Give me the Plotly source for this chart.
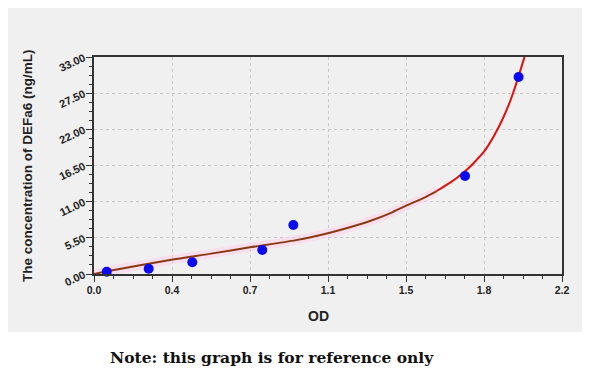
import plotly.graph_objects as go

# Standard points (OD, concentration)
od = [0.060, 0.257, 0.462, 0.791, 0.937, 1.744, 1.996]
conc = [0.35, 0.80, 1.78, 3.65, 7.45, 14.90, 29.96]

# Fitted curve
curve_x_low = [0.0, 0.075, 0.357, 0.55, 0.733, 0.95, 1.109, 1.203, 1.297, 1.391, 1.467, 1.548, 1.611]
curve_y_low = [0.0, 0.50, 2.13, 3.10, 4.06, 5.15, 6.28, 7.10, 8.06, 9.23, 10.39, 11.55, 12.62]
curve_x_high = [1.611, 1.674, 1.705, 1.752, 1.784, 1.833, 1.880, 1.917, 1.948, 1.971, 1.999, 2.029]
curve_y_high = [12.62, 13.90, 14.60, 15.85, 16.85, 18.60, 21.00, 23.30, 25.60, 27.60, 30.40, 33.56]

x_ticks = [0, 2.2/6, 2*2.2/6, 3*2.2/6, 4*2.2/6, 5*2.2/6, 2.2]
x_ticktext = ["0.0", "0.4", "0.7", "1.1", "1.5", "1.8", "2.2"]
y_ticks = [0, 5.5, 11, 16.5, 22, 27.5, 33]
y_ticktext = ["0.00", "5.50", "11.00", "16.50", "22.00", "27.50", "33.00"]

OFF = 8  # page body margin
L, R, T, B = 94 - OFF, 562 - OFF, 57 - OFF, 274 - OFF
W, H = 600 - OFF, 376 - OFF

def px(v):
    return (v - OFF - L) / (R - L)

def py(v):
    return (B - (v - OFF)) / (B - T)

fig = go.Figure()

# pink band behind low section
fig.add_trace(go.Scatter(x=curve_x_low, y=curve_y_low, mode="lines",
                         line=dict(color="rgba(255,210,235,0.6)", width=9, shape="spline", smoothing=0.8),
                         hoverinfo="skip", showlegend=False))
fig.add_trace(go.Scatter(x=curve_x_low, y=curve_y_low, mode="lines",
                         line=dict(color="#8a3a12", width=2, shape="spline", smoothing=0.8),
                         showlegend=False))
fig.add_trace(go.Scatter(x=curve_x_high, y=curve_y_high, mode="lines",
                         line=dict(color="#e01010", width=2, shape="spline", smoothing=0.8),
                         cliponaxis=False, showlegend=False))
fig.add_trace(go.Scatter(x=od, y=conc, mode="markers",
                         marker=dict(color="#0a0aee", size=10, line=dict(width=0)),
                         cliponaxis=False, showlegend=False))

fig.add_shape(type="rect", xref="paper", yref="paper",
              x0=px(5), x1=px(582), y0=py(332), y1=py(7),
              fillcolor="#f0f0f0", line=dict(width=0), layer="below")

fig.add_annotation(text="Note: this graph is for reference only",
                   xref="paper", yref="paper", x=px(272), y=py(357),
                   showarrow=False, xanchor="center", yanchor="middle",
                   font=dict(family="DejaVu Serif", size=15.5, color="#111", weight="bold"))
fig.add_annotation(text="OD", xref="paper", yref="paper", x=px(318), y=py(316),
                   showarrow=False, xanchor="center", yanchor="middle",
                   font=dict(family="Liberation Sans", size=14, color="#222", weight="bold"))
fig.add_annotation(text="The concentration of DEFa6 (ng/mL)", xref="paper", yref="paper",
                   x=px(27), y=py(166), textangle=-90,
                   showarrow=False, xanchor="center", yanchor="middle",
                   font=dict(family="Liberation Sans", size=13.5, color="#222", weight="bold"))

axis_common = dict(showline=True, linecolor="#333", linewidth=1.5, mirror=True,
                   ticks="outside", ticklen=6, tickcolor="#333",
                   showgrid=True, gridcolor="#c8c8c8", griddash="dot", gridwidth=1,
                   zeroline=False, automargin=False)

fig.update_xaxes(range=[0, 2.2], tickmode="array", tickvals=x_ticks, ticktext=x_ticktext,
                 tickfont=dict(family="Liberation Sans", size=10.5, color="#222", weight="bold"),
                 minor=dict(tickmode="linear", tick0=0, dtick=2.2/24, ticklen=3,
                            ticks="outside", tickcolor="#333", showgrid=False),
                 **axis_common)
fig.update_yaxes(range=[0, 33], tickmode="array", tickvals=y_ticks, ticktext=y_ticktext,
                 tickangle=-25,
                 tickfont=dict(family="Liberation Sans", size=11, color="#222", weight="bold"),
                 minor=dict(tickmode="linear", tick0=0, dtick=5.5/4, ticklen=3,
                            ticks="outside", tickcolor="#333", showgrid=False),
                 **axis_common)

fig.update_layout(width=W, height=H,
                  margin=dict(l=L, r=W - R, t=T, b=H - B),
                  paper_bgcolor="white", plot_bgcolor="white")

fig.write_html("out.html")
